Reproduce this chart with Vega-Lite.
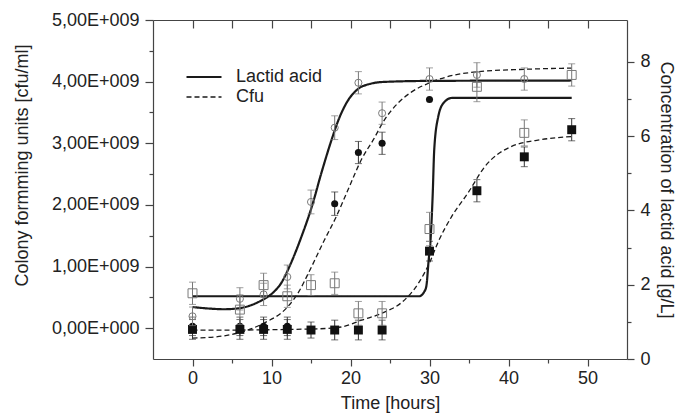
{
  "$schema": "https://vega.github.io/schema/vega-lite/v6.json",
  "width": 474,
  "height": 339,
  "autosize": "none",
  "padding": {"left": 153, "top": 20, "right": 50, "bottom": 54},
  "background": "white",
  "config": {
    "view": {"stroke": null},
    "font": "Liberation Sans",
    "axis": {
      "grid": false,
      "labelFont": "Liberation Sans",
      "labelFontSize": 18,
      "labelColor": "#222",
      "titleFont": "Liberation Sans",
      "titleFontSize": 18,
      "titleFontWeight": "normal",
      "titleColor": "#222",
      "domainColor": "#444",
      "tickColor": "#444",
      "domainWidth": 1.2,
      "tickWidth": 1.2
    },
    "legend": {
      "labelFont": "Liberation Sans",
      "labelFontSize": 18,
      "labelColor": "#222"
    }
  },
  "datasets": {
    "cfuPts": [
      {"t": 0, "exp": "1", "v": 30000000, "e": 150000000},
      {"t": 6, "exp": "1", "v": 30000000, "e": 150000000},
      {"t": 9, "exp": "1", "v": 30000000, "e": 150000000},
      {"t": 12, "exp": "1", "v": 30000000, "e": 150000000},
      {"t": 18, "exp": "1", "v": 2020000000, "e": 190000000},
      {"t": 21, "exp": "1", "v": 2850000000, "e": 180000000},
      {"t": 24, "exp": "1", "v": 3000000000, "e": 180000000},
      {"t": 30, "exp": "1", "v": 3710000000, "e": 0},
      {"t": 0, "exp": "2", "v": -20000000, "e": 160000000},
      {"t": 6, "exp": "2", "v": -20000000, "e": 160000000},
      {"t": 9, "exp": "2", "v": -20000000, "e": 160000000},
      {"t": 12, "exp": "2", "v": -20000000, "e": 160000000},
      {"t": 15, "exp": "2", "v": -30000000, "e": 130000000},
      {"t": 18, "exp": "2", "v": -30000000, "e": 160000000},
      {"t": 21, "exp": "2", "v": -30000000, "e": 160000000},
      {"t": 24, "exp": "2", "v": -30000000, "e": 160000000},
      {"t": 30, "exp": "2", "v": 1250000000, "e": 160000000},
      {"t": 36, "exp": "2", "v": 2230000000, "e": 180000000},
      {"t": 42, "exp": "2", "v": 2780000000, "e": 160000000},
      {"t": 48, "exp": "2", "v": 3220000000, "e": 180000000}
    ],
    "lacPts": [
      {"t": 0, "exp": "1", "v": 1.15, "e": 0.25},
      {"t": 6, "exp": "1", "v": 1.62, "e": 0.3},
      {"t": 9, "exp": "1", "v": 1.74, "e": 0.3},
      {"t": 12, "exp": "1", "v": 2.21, "e": 0.32},
      {"t": 15, "exp": "1", "v": 4.23, "e": 0.32},
      {"t": 18, "exp": "1", "v": 6.23, "e": 0.32},
      {"t": 21, "exp": "1", "v": 7.44, "e": 0.3},
      {"t": 24, "exp": "1", "v": 6.62, "e": 0.3},
      {"t": 30, "exp": "1", "v": 7.54, "e": 0.3},
      {"t": 36, "exp": "1", "v": 7.65, "e": 0.33},
      {"t": 42, "exp": "1", "v": 7.54, "e": 0.3},
      {"t": 0, "exp": "2", "v": 1.77, "e": 0.3},
      {"t": 6, "exp": "2", "v": 1.33, "e": 0.4},
      {"t": 9, "exp": "2", "v": 1.99, "e": 0.32},
      {"t": 12, "exp": "2", "v": 1.69, "e": 0.3},
      {"t": 15, "exp": "2", "v": 1.99, "e": 0.28},
      {"t": 18, "exp": "2", "v": 2.04, "e": 0.3},
      {"t": 21, "exp": "2", "v": 1.23, "e": 0.32},
      {"t": 24, "exp": "2", "v": 1.23, "e": 0.32},
      {"t": 30, "exp": "2", "v": 3.5, "e": 0.45},
      {"t": 36, "exp": "2", "v": 7.33, "e": 0.4},
      {"t": 42, "exp": "2", "v": 6.09, "e": 0.35},
      {"t": 48, "exp": "2", "v": 7.65, "e": 0.3}
    ],
    "cfuCurve": [
      {"t": 0, "exp": "1", "kind": "Cfu", "v": -160000000},
      {"t": 3, "exp": "1", "kind": "Cfu", "v": -140000000},
      {"t": 6, "exp": "1", "kind": "Cfu", "v": -70000000},
      {"t": 9, "exp": "1", "kind": "Cfu", "v": 80000000},
      {"t": 12, "exp": "1", "kind": "Cfu", "v": 340000000},
      {"t": 13.5, "exp": "1", "kind": "Cfu", "v": 600000000},
      {"t": 14.7, "exp": "1", "kind": "Cfu", "v": 900000000},
      {"t": 16.7, "exp": "1", "kind": "Cfu", "v": 1430000000},
      {"t": 18.2, "exp": "1", "kind": "Cfu", "v": 1810000000},
      {"t": 19.7, "exp": "1", "kind": "Cfu", "v": 2250000000},
      {"t": 21.4, "exp": "1", "kind": "Cfu", "v": 2740000000},
      {"t": 22.9, "exp": "1", "kind": "Cfu", "v": 3060000000},
      {"t": 24.3, "exp": "1", "kind": "Cfu", "v": 3380000000},
      {"t": 26, "exp": "1", "kind": "Cfu", "v": 3650000000},
      {"t": 27.7, "exp": "1", "kind": "Cfu", "v": 3830000000},
      {"t": 30, "exp": "1", "kind": "Cfu", "v": 3980000000},
      {"t": 32, "exp": "1", "kind": "Cfu", "v": 4070000000},
      {"t": 36, "exp": "1", "kind": "Cfu", "v": 4160000000},
      {"t": 42, "exp": "1", "kind": "Cfu", "v": 4200000000},
      {"t": 48, "exp": "1", "kind": "Cfu", "v": 4220000000},
      {"t": 0, "exp": "2", "kind": "Cfu", "v": -30000000},
      {"t": 6, "exp": "2", "kind": "Cfu", "v": -30000000},
      {"t": 12, "exp": "2", "kind": "Cfu", "v": -20000000},
      {"t": 16, "exp": "2", "kind": "Cfu", "v": -10000000},
      {"t": 18.9, "exp": "2", "kind": "Cfu", "v": 20000000},
      {"t": 21.4, "exp": "2", "kind": "Cfu", "v": 130000000},
      {"t": 24.3, "exp": "2", "kind": "Cfu", "v": 260000000},
      {"t": 26.5, "exp": "2", "kind": "Cfu", "v": 420000000},
      {"t": 28.6, "exp": "2", "kind": "Cfu", "v": 730000000},
      {"t": 30, "exp": "2", "kind": "Cfu", "v": 1060000000},
      {"t": 31.1, "exp": "2", "kind": "Cfu", "v": 1400000000},
      {"t": 32.8, "exp": "2", "kind": "Cfu", "v": 1810000000},
      {"t": 34.9, "exp": "2", "kind": "Cfu", "v": 2200000000},
      {"t": 37, "exp": "2", "kind": "Cfu", "v": 2620000000},
      {"t": 40.4, "exp": "2", "kind": "Cfu", "v": 2950000000},
      {"t": 44.2, "exp": "2", "kind": "Cfu", "v": 3060000000},
      {"t": 48, "exp": "2", "kind": "Cfu", "v": 3110000000}
    ],
    "lacCurve": [
      {"t": 0, "exp": "1", "kind": "Lactid acid", "v": 1.4},
      {"t": 2, "exp": "1", "kind": "Lactid acid", "v": 1.36},
      {"t": 4, "exp": "1", "kind": "Lactid acid", "v": 1.34},
      {"t": 6, "exp": "1", "kind": "Lactid acid", "v": 1.37},
      {"t": 8, "exp": "1", "kind": "Lactid acid", "v": 1.5},
      {"t": 9, "exp": "1", "kind": "Lactid acid", "v": 1.61},
      {"t": 10, "exp": "1", "kind": "Lactid acid", "v": 1.75},
      {"t": 11.3, "exp": "1", "kind": "Lactid acid", "v": 2.07},
      {"t": 12.5, "exp": "1", "kind": "Lactid acid", "v": 2.6},
      {"t": 13.8, "exp": "1", "kind": "Lactid acid", "v": 3.3},
      {"t": 15.1, "exp": "1", "kind": "Lactid acid", "v": 4.1},
      {"t": 16.3, "exp": "1", "kind": "Lactid acid", "v": 5.0},
      {"t": 17.6, "exp": "1", "kind": "Lactid acid", "v": 5.9},
      {"t": 18.5, "exp": "1", "kind": "Lactid acid", "v": 6.45},
      {"t": 19.5, "exp": "1", "kind": "Lactid acid", "v": 6.9},
      {"t": 21, "exp": "1", "kind": "Lactid acid", "v": 7.28},
      {"t": 22.5, "exp": "1", "kind": "Lactid acid", "v": 7.41},
      {"t": 24, "exp": "1", "kind": "Lactid acid", "v": 7.46},
      {"t": 30, "exp": "1", "kind": "Lactid acid", "v": 7.49},
      {"t": 48, "exp": "1", "kind": "Lactid acid", "v": 7.5},
      {"t": 0, "exp": "2", "kind": "Lactid acid", "v": 1.69},
      {"t": 28.7, "exp": "2", "kind": "Lactid acid", "v": 1.69},
      {"t": 29.3, "exp": "2", "kind": "Lactid acid", "v": 1.8},
      {"t": 29.6, "exp": "2", "kind": "Lactid acid", "v": 1.96},
      {"t": 29.9, "exp": "2", "kind": "Lactid acid", "v": 2.68},
      {"t": 30.1, "exp": "2", "kind": "Lactid acid", "v": 3.1},
      {"t": 30.4, "exp": "2", "kind": "Lactid acid", "v": 4.4},
      {"t": 30.6, "exp": "2", "kind": "Lactid acid", "v": 5.64},
      {"t": 31.1, "exp": "2", "kind": "Lactid acid", "v": 6.52},
      {"t": 31.8, "exp": "2", "kind": "Lactid acid", "v": 6.9},
      {"t": 32.8, "exp": "2", "kind": "Lactid acid", "v": 7.03},
      {"t": 40, "exp": "2", "kind": "Lactid acid", "v": 7.03},
      {"t": 48, "exp": "2", "kind": "Lactid acid", "v": 7.03}
    ]
  },
  "layer": [
    {
      "encoding": {
        "x": {
          "field": "t", "type": "quantitative",
          "scale": {"domain": [-5, 55], "nice": false, "zero": false},
          "axis": {
            "orient": "bottom",
            "title": "Time [hours]",
            "values": [0, 5, 10, 15, 20, 25, 30, 35, 40, 45, 50],
            "labelExpr": "datum.value % 10 == 0 ? datum.label : ''",
            "tickSize": {"condition": {"test": "datum.value % 10 == 0", "value": 7}, "value": 4},
            "labelPadding": 3,
            "titlePadding": 7
          }
        },
        "y": {
          "field": "v", "type": "quantitative",
          "scale": {"domain": [-500000000, 5000000000], "nice": false, "zero": false},
          "axis": {
            "orient": "left",
            "title": "Colony formming units [cfu/ml]",
            "values": [0, 500000000, 1000000000, 1500000000, 2000000000, 2500000000, 3000000000, 3500000000, 4000000000, 4500000000, 5000000000],
            "labelExpr": "datum.value % 1000000000 == 0 ? replace(format(datum.value / 1000000000, '.2f'), '.', ',') + (datum.value == 0 ? 'E+000' : 'E+009') : ''",
            "tickSize": {"condition": {"test": "datum.value % 1000000000 == 0", "value": 8}, "value": 4},
            "labelPadding": 6,
            "titlePadding": 20,
            "titleY": 145
          }
        }
      },
      "layer": [
        {
          "data": {"name": "cfuCurve"},
          "mark": {"type": "line", "color": "#1a1a1a", "interpolate": "monotone"},
          "encoding": {
            "detail": {"field": "exp", "type": "nominal"},
            "strokeDash": {"field": "kind", "type": "nominal", "scale": {"domain": ["Lactid acid", "Cfu"], "range": [[1, 0], [5, 3]]}, "legend": {"title": null, "orient": "none", "legendX": 32, "legendY": 48, "symbolType": "stroke", "symbolSize": 1225, "symbolStrokeColor": "#1a1a1a", "labelOffset": 13, "rowPadding": 2, "clipHeight": 18, "padding": 0}},
            "strokeWidth": {"field": "kind", "type": "nominal", "scale": {"domain": ["Lactid acid", "Cfu"], "range": [2.2, 1.3]}, "legend": {"title": null, "orient": "none", "legendX": 32, "legendY": 48, "symbolType": "stroke", "symbolSize": 1225, "symbolStrokeColor": "#1a1a1a", "labelOffset": 13, "rowPadding": 2, "clipHeight": 18, "padding": 0}}
          }
        },
        {
          "data": {"name": "cfuPts"},
          "mark": {"type": "errorbar", "color": "#333", "ticks": {"size": 7}},
          "encoding": {"yError": {"field": "e"}}
        },
        {
          "data": {"name": "cfuPts"},
          "mark": {"type": "point", "filled": true, "color": "#111", "opacity": 1},
          "encoding": {
            "shape": {"field": "exp", "type": "nominal", "scale": {"domain": ["1", "2"], "range": ["circle", "square"]}, "legend": null},
            "size": {"field": "exp", "type": "nominal", "scale": {"domain": ["1", "2"], "range": [50, 80]}, "legend": null}
          }
        }
      ]
    },
    {
      "encoding": {
        "x": {
          "field": "t", "type": "quantitative",
          "scale": {"domain": [-5, 55], "nice": false, "zero": false},
          "axis": {
            "orient": "top",
            "title": null,
            "values": [0, 5, 10, 15, 20, 25, 30, 35, 40, 45, 50],
            "labels": false,
            "tickSize": -8
          }
        },
        "y": {
          "field": "v", "type": "quantitative",
          "scale": {"domain": [0, 9.13], "nice": false, "zero": false},
          "axis": {
            "orient": "right",
            "title": "Concentration of lactid acid [g/L]",
            "values": [0, 1, 2, 3, 4, 5, 6, 7, 8],
            "labelExpr": "datum.value % 2 == 0 ? datum.label : ''",
            "tickSize": {"condition": {"test": "datum.value % 2 == 0", "value": 7}, "value": 4},
            "labelPadding": 6,
            "titlePadding": 6
          }
        }
      },
      "layer": [
        {
          "data": {"name": "lacCurve"},
          "mark": {"type": "line", "color": "#1a1a1a", "interpolate": "monotone"},
          "encoding": {
            "detail": {"field": "exp", "type": "nominal"},
            "strokeDash": {"field": "kind", "type": "nominal", "scale": {"domain": ["Lactid acid", "Cfu"], "range": [[1, 0], [5, 3]]}, "legend": {"title": null, "orient": "none", "legendX": 32, "legendY": 48, "symbolType": "stroke", "symbolSize": 1225, "symbolStrokeColor": "#1a1a1a", "labelOffset": 13, "rowPadding": 2, "clipHeight": 18, "padding": 0}},
            "strokeWidth": {"field": "kind", "type": "nominal", "scale": {"domain": ["Lactid acid", "Cfu"], "range": [2.2, 1.3]}, "legend": {"title": null, "orient": "none", "legendX": 32, "legendY": 48, "symbolType": "stroke", "symbolSize": 1225, "symbolStrokeColor": "#1a1a1a", "labelOffset": 13, "rowPadding": 2, "clipHeight": 18, "padding": 0}}
          }
        },
        {
          "data": {"name": "lacPts"},
          "mark": {"type": "errorbar", "color": "#777", "ticks": {"size": 7}},
          "encoding": {"yError": {"field": "e"}}
        },
        {
          "data": {"name": "lacPts"},
          "mark": {"type": "point", "filled": false, "color": "#7a7a7a", "strokeWidth": 1, "opacity": 1},
          "encoding": {
            "shape": {"field": "exp", "type": "nominal", "scale": {"domain": ["1", "2"], "range": ["circle", "square"]}, "legend": null},
            "size": {"field": "exp", "type": "nominal", "scale": {"domain": ["1", "2"], "range": [50, 80]}, "legend": null}
          }
        }
      ]
    }
  ],
  "resolve": {"scale": {"y": "independent"}, "axis": {"x": "independent"}}
}
